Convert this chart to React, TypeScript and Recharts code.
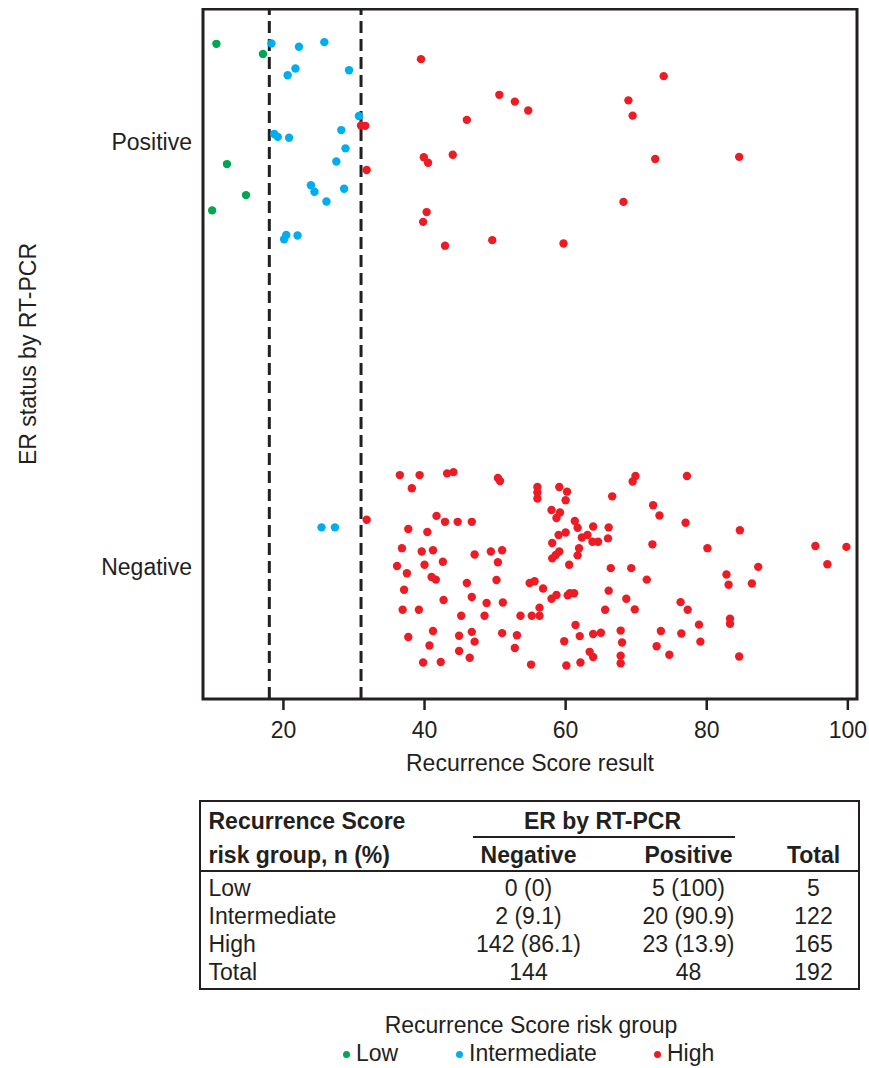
import React from 'react';
import { ScatterChart, Scatter, XAxis, YAxis, ReferenceLine, ReferenceArea } from 'recharts';

const INK = '#231f20';
const FONT = '"Liberation Sans", Arial, Helvetica, sans-serif';
const GREEN = '#00a650';
const BLUE = '#00aeef';
const RED = '#ed1c24';

// [Recurrence Score, ER position (1 = Positive, 0 = Negative, with jitter)]
const lowPositive: [number, number][] = [
  [10.5, 1.231], [17.1, 1.207], [12.0, 0.948], [14.7, 0.875], [9.9, 0.839],
];

const intermediatePositive: [number, number][] = [
  [18.3, 1.232], [22.2, 1.224], [25.8, 1.235], [21.7, 1.173], [20.6, 1.157],
  [29.3, 1.169], [30.7, 1.061], [28.2, 1.028], [18.7, 1.019], [19.2, 1.012],
  [20.8, 1.01], [28.8, 0.985], [27.5, 0.954], [23.9, 0.898], [24.4, 0.883],
  [28.6, 0.89], [26.1, 0.86], [20.4, 0.781], [20.1, 0.771], [22.0, 0.78],
];

const intermediateNegative: [number, number][] = [
  [25.4, 0.093], [27.3, 0.093],
];

const highPositive: [number, number][] = [
  [31.0, 1.039], [31.6, 1.038], [31.8, 0.934], [39.5, 1.195], [73.9, 1.155],
  [50.6, 1.111], [52.8, 1.095], [54.7, 1.074], [68.9, 1.098], [69.5, 1.062],
  [46.0, 1.052], [39.9, 0.964], [40.5, 0.951], [44.0, 0.97], [72.7, 0.96],
  [84.6, 0.965], [68.2, 0.859], [40.3, 0.835], [39.8, 0.812], [42.9, 0.756],
  [49.6, 0.769], [59.7, 0.761],
];

const highNegative: [number, number][] = [
  [36.5, 0.216], [39.3, 0.216], [43.2, 0.22], [44.1, 0.223], [38.2, 0.185],
  [50.4, 0.209], [50.7, 0.202], [31.8, 0.111], [41.7, 0.12], [42.9, 0.106],
  [44.7, 0.106], [46.7, 0.106], [37.7, 0.089], [40.4, 0.082], [36.8, 0.044],
  [39.6, 0.036], [41.2, 0.039], [47.1, 0.029], [49.4, 0.036], [51.0, 0.039],
  [50.4, 0.011], [42.6, 0.012], [36.1, 0.002], [40.0, 0.005], [37.5, -0.015],
  [41.0, -0.024], [41.6, -0.03], [46.0, -0.038], [50.2, -0.031], [37.1, -0.054],
  [42.7, -0.078], [46.7, -0.071], [48.8, -0.085], [51.1, -0.084], [36.9, -0.101],
  [39.2, -0.101], [45.2, -0.115], [48.5, -0.115], [37.7, -0.165], [41.2, -0.151],
  [44.9, -0.162], [46.7, -0.153], [47.1, -0.176], [51.0, -0.156], [40.7, -0.185],
  [44.9, -0.198], [46.4, -0.214], [39.8, -0.225], [42.3, -0.224],
  [56.0, 0.188], [56.0, 0.175], [56.0, 0.161], [59.1, 0.188], [60.2, 0.177],
  [60.0, 0.157], [69.9, 0.214], [69.5, 0.201], [66.6, 0.166], [77.2, 0.214],
  [72.4, 0.145], [73.3, 0.121], [77.0, 0.104], [58.0, 0.134], [59.2, 0.128],
  [58.7, 0.115], [61.3, 0.108], [61.7, 0.092], [63.9, 0.095], [66.1, 0.093],
  [59.0, 0.075], [60.0, 0.081], [62.3, 0.069], [63.1, 0.075], [63.8, 0.059],
  [64.6, 0.059], [66.0, 0.067], [58.1, 0.056], [72.3, 0.053], [61.9, 0.044],
  [61.7, 0.027], [59.1, 0.036], [58.6, 0.028], [58.1, 0.02], [60.5, 0.005],
  [66.4, -0.003], [69.3, -0.003], [71.5, -0.03], [54.9, -0.038], [55.6, -0.034],
  [56.8, -0.051], [58.0, -0.075], [58.7, -0.066], [60.3, -0.067], [61.2, -0.062],
  [60.6, -0.062], [66.1, -0.056], [68.6, -0.075], [69.8, -0.1], [76.3, -0.083],
  [77.3, -0.101], [56.3, -0.096], [53.6, -0.115], [55.2, -0.115], [56.3, -0.115],
  [65.6, -0.101], [61.4, -0.137], [53.1, -0.161], [62.0, -0.163], [63.9, -0.158],
  [65.0, -0.155], [67.8, -0.15], [73.5, -0.151], [76.4, -0.157], [59.8, -0.175],
  [68.0, -0.178], [52.8, -0.191], [72.9, -0.187], [74.7, -0.207], [63.4, -0.2],
  [63.9, -0.212], [67.8, -0.209], [67.8, -0.227], [55.1, -0.23], [60.1, -0.232],
  [62.1, -0.225],
  [84.7, 0.086], [80.1, 0.044], [95.4, 0.049], [99.8, 0.047], [97.1, 0.006],
  [87.3, 0.0], [82.8, -0.018], [83.1, -0.042], [86.4, -0.039], [78.9, -0.136],
  [83.3, -0.122], [83.3, -0.134], [79.1, -0.176], [84.6, -0.211],
];

const scoreTicks = [20, 40, 60, 80, 100];
const erTicks = [0, 1];
const erLabels = ['Negative', 'Positive'];
const cutoffs = [18, 31];

const X_DOMAIN: [number, number] = [8.6, 101.3];
const Y_DOMAIN: [number, number] = [-0.311, 1.313];

// table
const riskGroups = ['Low', 'Intermediate', 'High', 'Total'];
const negativeCol = ['0 (0)', '2 (9.1)', '142 (86.1)', '144'];
const positiveCol = ['5 (100)', '20 (90.9)', '23 (13.9)', '48'];
const totalCol = ['5', '122', '165', '192'];

const legendItems = [
  { name: 'Low', color: GREEN, x: 346 },
  { name: 'Intermediate', color: BLUE, x: 459 },
  { name: 'High', color: RED, x: 657 },
];

const toPoints = (rows: [number, number][]) => rows.map(([score, er]) => ({ score, er }));

const dot = (fill: string) => (props: any) => (
  <circle cx={props.cx} cy={props.cy} r={4.2} fill={fill} />
);

const YAxisTitle = (props: any) => {
  const vb = props.viewBox || {};
  const cx = (vb.x ?? 0) + 20;
  const cy = vb.height ? vb.y + vb.height / 2 : 346;
  return (
    <text
      x={cx}
      y={cy}
      transform={`rotate(-90 ${cx} ${cy})`}
      textAnchor="middle"
      dominantBaseline="central"
      fill={INK}
      fontSize={23}
      fontFamily={FONT}
    >
      ER status by RT-PCR
    </text>
  );
};

const T = ({ x, y, center, bold, children }: any) => (
  <div
    style={{
      position: 'absolute',
      left: x,
      top: y,
      transform: center ? 'translate(-50%, -50%)' : 'translate(0, -50%)',
      whiteSpace: 'nowrap',
      fontSize: 23,
      fontWeight: bold ? 700 : 400,
      lineHeight: 1,
    }}
  >
    {children}
  </div>
);

const rowY = [85.5, 113.5, 141.5, 169.5];
const colX = [327.5, 487.5, 612.5];

export default function App() {
  return (
    <div
      style={{
        position: 'fixed',
        left: 0,
        top: 0,
        width: 869,
        height: 1068,
        overflow: 'hidden',
        background: '#fff',
        fontFamily: FONT,
        color: INK,
      }}
    >
      <style>{'html, body { margin: 0; overflow: hidden; }'}</style>
      <div style={{ position: 'absolute', left: 8, top: 8 }}>
        <ScatterChart width={861} height={770} margin={{ top: 1, right: 12, bottom: 0, left: 0 }}>
          <XAxis
            dataKey="score"
            type="number"
            domain={X_DOMAIN}
            ticks={scoreTicks}
            allowDataOverflow
            axisLine={false}
            tickSize={11}
            tickMargin={12}
            tickLine={{ stroke: INK, strokeWidth: 2.5 }}
            tick={{ fill: INK, fontSize: 23, fontFamily: FONT }}
            height={79}
            label={{ value: 'Recurrence Score result', position: 'insideBottom', offset: 7, fill: INK, fontSize: 23, fontFamily: FONT }}
          />
          <YAxis
            dataKey="er"
            type="number"
            domain={Y_DOMAIN}
            ticks={erTicks}
            allowDataOverflow
            axisLine={false}
            tickLine={false}
            tickSize={0}
            tickMargin={11}
            tickFormatter={(v: number) => erLabels[v]}
            tick={{ fill: INK, fontSize: 23, fontFamily: FONT }}
            width={195}
            label={<YAxisTitle />}
          />
          {cutoffs.map((c) => (
            <ReferenceLine key={c} x={c} stroke={INK} strokeWidth={3} strokeDasharray="12 6" />
          ))}
          <Scatter name="Low" data={toPoints(lowPositive)} shape={dot(GREEN)} isAnimationActive={false} />
          <Scatter
            name="Intermediate"
            data={toPoints([...intermediatePositive, ...intermediateNegative])}
            shape={dot(BLUE)}
            isAnimationActive={false}
          />
          <Scatter
            name="High"
            data={toPoints([...highPositive, ...highNegative])}
            shape={dot(RED)}
            isAnimationActive={false}
          />
          <ReferenceArea
            x1={X_DOMAIN[0]}
            x2={X_DOMAIN[1]}
            y1={Y_DOMAIN[0]}
            y2={Y_DOMAIN[1]}
            fill="none"
            fillOpacity={0}
            stroke={INK}
            strokeWidth={3}
            strokeOpacity={1}
          />
        </ScatterChart>
      </div>

      <div
        style={{
          position: 'absolute',
          left: 199,
          top: 800,
          width: 661,
          height: 190,
          border: `2.5px solid ${INK}`,
          boxSizing: 'border-box',
          overflow: 'hidden',
        }}
      >
        <T x={7.5} y={18.5} bold>Recurrence Score</T>
        <T x={7.5} y={52.5} bold>risk group, n (%)</T>
        <T x={401.5} y={18.5} center bold>ER by RT-PCR</T>
        <div style={{ position: 'absolute', left: 271.5, top: 34, width: 262, height: 1.5, background: INK }} />
        <T x={colX[0]} y={52.5} center bold>Negative</T>
        <T x={colX[1]} y={52.5} center bold>Positive</T>
        <T x={colX[2]} y={52.5} center bold>Total</T>
        <div style={{ position: 'absolute', left: 0, right: 0, top: 67.5, height: 2, background: INK }} />
        {riskGroups.map((g, i) => (
          <React.Fragment key={g}>
            <T x={7.5} y={rowY[i]}>{g}</T>
            <T x={colX[0]} y={rowY[i]} center>{negativeCol[i]}</T>
            <T x={colX[1]} y={rowY[i]} center>{positiveCol[i]}</T>
            <T x={colX[2]} y={rowY[i]} center>{totalCol[i]}</T>
          </React.Fragment>
        ))}
      </div>

      <T x={531} y={1025} center>Recurrence Score risk group</T>
      {legendItems.map((it) => (
        <React.Fragment key={it.name}>
          <div
            style={{
              position: 'absolute',
              left: it.x - 3.5,
              top: 1054 - 3.5,
              width: 7,
              height: 7,
              borderRadius: '50%',
              background: it.color,
            }}
          />
          <T x={it.x + 10} y={1053}>{it.name}</T>
        </React.Fragment>
      ))}
    </div>
  );
}
